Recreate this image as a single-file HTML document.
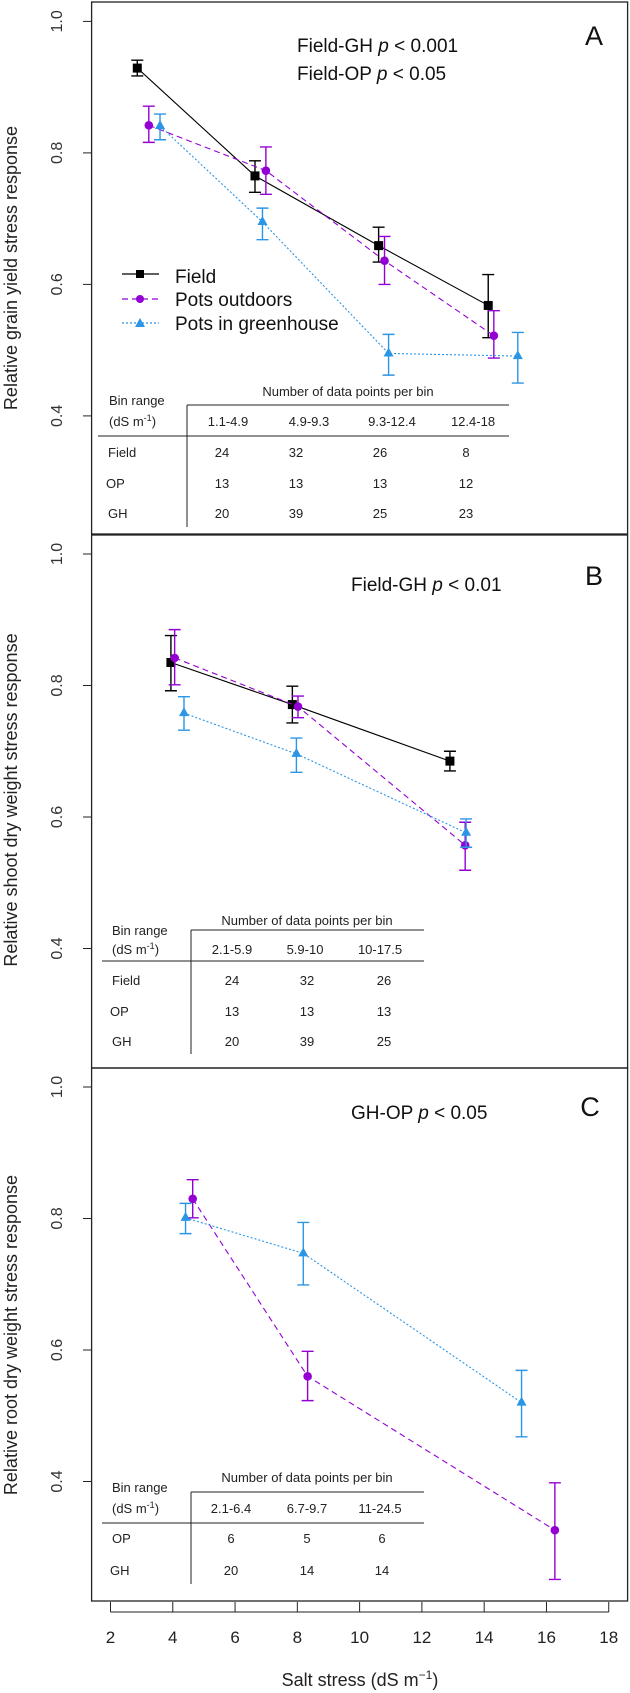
<!DOCTYPE html>
<html><head><meta charset="utf-8">
<style>
html,body{margin:0;padding:0;background:#fff;}
svg{display:block;font-family:"Liberation Sans",sans-serif;}
.tb{font-family:"Liberation Sans",sans-serif;font-size:13px;fill:#222;}
</style></head>
<body>
<svg id="chart" width="630" height="1693" viewBox="0 0 630 1693" xmlns="http://www.w3.org/2000/svg">
  <!-- Panel A -->
  <g id="panelA">
    <rect x="91.6" y="2" width="536" height="532" fill="none" stroke="#222" stroke-width="1.3"/>
    <text x="594" y="45" font-size="27" text-anchor="middle" fill="#111">A</text>
    <text x="297" y="52" font-size="19" fill="#111">Field-GH <tspan font-style="italic">p</tspan> &lt; 0.001</text>
    <text x="297" y="80" font-size="19" fill="#111">Field-OP <tspan font-style="italic">p</tspan> &lt; 0.05</text>
    <text transform="translate(17,268) rotate(-90)" font-size="18" text-anchor="middle" fill="#222">Relative grain yield stress response</text>
    <g>
      <g>
        <line x1="122" y1="274" x2="159" y2="274" stroke="#000" stroke-width="1.2"/>
        <rect x="136" y="270" width="8" height="8" fill="#000"/>
        <text x="175" y="283" font-size="19" fill="#111">Field</text>
      </g>
      <g>
        <line x1="122" y1="299" x2="159" y2="299" stroke="#9400D3" stroke-width="1.2" stroke-dasharray="6,4"/>
        <circle cx="140" cy="299" r="4" fill="#9400D3"/>
        <text x="175" y="306" font-size="19" fill="#111">Pots outdoors</text>
      </g>
      <g>
        <line x1="122" y1="323" x2="159" y2="323" stroke="#2b95e6" stroke-width="1.2" stroke-dasharray="2,2"/>
        <path d="M140,318 L145,327 L135,327 Z" fill="#2b95e6"/>
        <text x="175" y="330" font-size="19" fill="#111">Pots in greenhouse</text>
      </g>
    </g>
    <g class="tb">
      <text x="348" y="396" text-anchor="middle">Number of data points per bin</text>
      <line x1="187" y1="405" x2="509" y2="405" stroke="#222"/>
      <line x1="98" y1="436" x2="509" y2="436" stroke="#222"/>
      <line x1="187" y1="405" x2="187" y2="527" stroke="#222"/>
      <text x="109" y="405">Bin range</text>
      <text x="109" y="426">(dS m<tspan baseline-shift="super" font-size="9">-1</tspan>)</text>
      <text x="228" y="426" text-anchor="middle">1.1-4.9</text>
      <text x="309" y="426" text-anchor="middle">4.9-9.3</text>
      <text x="392" y="426" text-anchor="middle">9.3-12.4</text>
      <text x="473" y="426" text-anchor="middle">12.4-18</text>
      <text x="108" y="457">Field</text><text x="222" y="457" text-anchor="middle">24</text><text x="296" y="457" text-anchor="middle">32</text><text x="380" y="457" text-anchor="middle">26</text><text x="466" y="457" text-anchor="middle">8</text>
      <text x="106" y="488">OP</text><text x="222" y="488" text-anchor="middle">13</text><text x="296" y="488" text-anchor="middle">13</text><text x="380" y="488" text-anchor="middle">13</text><text x="466" y="488" text-anchor="middle">12</text>
      <text x="108" y="518">GH</text><text x="222" y="518" text-anchor="middle">20</text><text x="296" y="518" text-anchor="middle">39</text><text x="380" y="518" text-anchor="middle">25</text><text x="466" y="518" text-anchor="middle">23</text>
    </g>
  </g>
  <!-- Panel B -->
  <g id="panelB">
    <rect x="91.6" y="535" width="536" height="533" fill="none" stroke="#222" stroke-width="1.3"/>
    <text x="594" y="585" font-size="27" text-anchor="middle" fill="#111">B</text>
    <text x="351" y="591" font-size="19" fill="#111">Field-GH <tspan font-style="italic">p</tspan> &lt; 0.01</text>
    <text transform="translate(17,800) rotate(-90)" font-size="18" text-anchor="middle" fill="#222">Relative shoot dry weight stress response</text>
    <g class="tb">
      <text x="307" y="925" text-anchor="middle">Number of data points per bin</text>
      <line x1="191" y1="930" x2="424" y2="930" stroke="#222"/>
      <line x1="102" y1="961" x2="424" y2="961" stroke="#222"/>
      <line x1="191" y1="930" x2="191" y2="1054" stroke="#222"/>
      <text x="112" y="935">Bin range</text>
      <text x="112" y="954">(dS m<tspan baseline-shift="super" font-size="9">-1</tspan>)</text>
      <text x="232" y="954" text-anchor="middle">2.1-5.9</text>
      <text x="305" y="954" text-anchor="middle">5.9-10</text>
      <text x="380" y="954" text-anchor="middle">10-17.5</text>
      <text x="112" y="985">Field</text><text x="232" y="985" text-anchor="middle">24</text><text x="307" y="985" text-anchor="middle">32</text><text x="384" y="985" text-anchor="middle">26</text>
      <text x="110" y="1016">OP</text><text x="232" y="1016" text-anchor="middle">13</text><text x="307" y="1016" text-anchor="middle">13</text><text x="384" y="1016" text-anchor="middle">13</text>
      <text x="112" y="1046">GH</text><text x="232" y="1046" text-anchor="middle">20</text><text x="307" y="1046" text-anchor="middle">39</text><text x="384" y="1046" text-anchor="middle">25</text>
    </g>
  </g>
  <!-- Panel C -->
  <g id="panelC">
    <rect x="91.6" y="1068" width="536" height="533" fill="none" stroke="#222" stroke-width="1.3"/>
    <text x="590" y="1116" font-size="27" text-anchor="middle" fill="#111">C</text>
    <text x="351" y="1119" font-size="19" fill="#111">GH-OP <tspan font-style="italic">p</tspan> &lt; 0.05</text>
    <text transform="translate(17,1335) rotate(-90)" font-size="18" text-anchor="middle" fill="#222">Relative root dry weight stress response</text>
    <g class="tb">
      <text x="307" y="1482" text-anchor="middle">Number of data points per bin</text>
      <line x1="191" y1="1492" x2="424" y2="1492" stroke="#222"/>
      <line x1="102" y1="1523" x2="424" y2="1523" stroke="#222"/>
      <line x1="191" y1="1492" x2="191" y2="1584" stroke="#222"/>
      <text x="112" y="1492">Bin range</text>
      <text x="112" y="1513">(dS m<tspan baseline-shift="super" font-size="9">-1</tspan>)</text>
      <text x="231" y="1513" text-anchor="middle">2.1-6.4</text>
      <text x="307" y="1513" text-anchor="middle">6.7-9.7</text>
      <text x="380" y="1513" text-anchor="middle">11-24.5</text>
      <text x="112" y="1543">OP</text><text x="231" y="1543" text-anchor="middle">6</text><text x="307" y="1543" text-anchor="middle">5</text><text x="382" y="1543" text-anchor="middle">6</text>
      <text x="110" y="1575">GH</text><text x="231" y="1575" text-anchor="middle">20</text><text x="307" y="1575" text-anchor="middle">14</text><text x="382" y="1575" text-anchor="middle">14</text>
    </g>
  </g>
  <text x="360" y="1686" font-size="18" text-anchor="middle" fill="#222">Salt stress (dS m<tspan baseline-shift="super" font-size="12">−1</tspan>)</text>
  <g id="dyn"></g>
</svg>
<script>
// ---- data ----
const xTicks = [2,4,6,8,10,12,14,16,18];
const yTicks = [0.4,0.6,0.8,1.0];
// Panel A: grain yield
const aFieldX = [2.86,6.64,10.61,14.13];
const aFieldY = [0.929,0.765,0.659,0.568];
const aFieldLo = [0.917,0.740,0.634,0.519];
const aFieldHi = [0.941,0.788,0.687,0.615];
const aOpX = [3.23,6.99,10.80,14.31];
const aOpY = [0.842,0.773,0.636,0.522];
const aOpLo = [0.816,0.737,0.600,0.488];
const aOpHi = [0.871,0.809,0.673,0.560];
const aGhX = [3.59,6.88,10.93,15.08];
const aGhY = [0.841,0.695,0.495,0.491];
const aGhLo = [0.820,0.668,0.462,0.450];
const aGhHi = [0.859,0.716,0.524,0.527];
// Panel B: shoot dry weight
const bFieldX = [3.94,7.84,12.90];
const bFieldY = [0.835,0.771,0.685];
const bFieldLo = [0.792,0.743,0.670];
const bFieldHi = [0.876,0.799,0.700];
const bOpX = [4.06,8.02,13.39];
const bOpY = [0.842,0.768,0.557];
const bOpLo = [0.801,0.751,0.519];
const bOpHi = [0.885,0.784,0.592];
const bGhX = [4.36,7.97,13.42];
const bGhY = [0.758,0.696,0.576];
const bGhLo = [0.732,0.668,0.554];
const bGhHi = [0.783,0.720,0.597];
// Panel C: root dry weight
const cOpX = [4.64,8.33,16.27];
const cOpY = [0.830,0.560,0.326];
const cOpLo = [0.801,0.523,0.251];
const cOpHi = [0.859,0.598,0.398];
const cGhX = [4.41,8.19,15.20];
const cGhY = [0.801,0.747,0.520];
const cGhLo = [0.777,0.699,0.468];
const cGhHi = [0.823,0.794,0.569];

const NS = "http://www.w3.org/2000/svg";
const root = document.getElementById('dyn');
const X0 = 110.5, XS = 31.14;
const xPix = v => X0 + (v - 2) * XS;
const YS = 657.5;
const panelTop = {A:21.4, B:554, C:1087};
const yPix = (p, v) => panelTop[p] + (1 - v) * YS;
const COL = {field:'#000', op:'#9400D3', gh:'#2b95e6'};
const DASH = {field:'', op:'6,4', gh:'2,2'};

function mk(tag, attrs, parent) {
  const el = document.createElementNS(NS, tag);
  for (const k in attrs) el.setAttribute(k, attrs[k]);
  (parent || root).appendChild(el);
  return el;
}

// y axes
['A','B','C'].forEach(p => {
  const g = mk('g', {});
  
  
  yTicks.forEach(t => {
    const y = yPix(p, t);
    const ln = mk('line', {x1:83, x2:91.6, y1:y, y2:y, stroke:'#222'}, g);
    
    
    const tx = mk('text', {transform:`translate(62,${y}) rotate(-90)`, 'text-anchor':'middle', 'font-size':16, fill:'#333'}, g);
    
    
    tx.textContent = t.toFixed(1);
  });
});

// x axis
const xg = mk('g', {});


mk('line', {x1:xPix(xTicks[0]), x2:xPix(xTicks[xTicks.length-1]), y1:1612, y2:1612, stroke:'#222'}, xg);
xTicks.forEach(t => {
  const x = xPix(t);
  const ln = mk('line', {x1:x, x2:x, y1:1602, y2:1612, stroke:'#222'}, xg);
  
  
  const tx = mk('text', {x:x, y:1643, 'text-anchor':'middle', 'font-size':17, fill:'#222'}, xg);
  
  
  tx.textContent = t;
});

function series(p, kind, xs, ys, lo, hi) {
  const g = mk('g', {});
  
  
  const c = COL[kind];
  const pts = xs.map((x, i) => xPix(x) + ',' + yPix(p, ys[i])).join(' ');
  const pl = mk('polyline', {points:pts, fill:'none', stroke:c, 'stroke-width':1.1}, g);
  if (DASH[kind]) pl.setAttribute('stroke-dasharray', DASH[kind]);
  
  
  xs.forEach((xv, i) => {
    const x = xPix(xv), y = yPix(p, ys[i]), y1 = yPix(p, lo[i]), y2 = yPix(p, hi[i]);
    const eb = mk('path', {d:`M${x},${y1}L${x},${y2}M${x-6},${y1}L${x+6},${y1}M${x-6},${y2}L${x+6},${y2}`, stroke:c, 'stroke-width':1.4, fill:'none'}, g);
    
    
    let m;
    if (kind === 'field') m = mk('rect', {x:x-4.5, y:y-4.5, width:9, height:9, fill:c}, g);
    else if (kind === 'op') m = mk('circle', {cx:x, cy:y, r:4.3, fill:c}, g);
    else m = mk('path', {d:`M${x},${y-6}L${x+5},${y+3}L${x-5},${y+3}Z`, fill:c}, g);
    
    
  });
}
series('A','field',aFieldX,aFieldY,aFieldLo,aFieldHi);
series('A','op',aOpX,aOpY,aOpLo,aOpHi);
series('A','gh',aGhX,aGhY,aGhLo,aGhHi);
series('B','field',bFieldX,bFieldY,bFieldLo,bFieldHi);
series('B','op',bOpX,bOpY,bOpLo,bOpHi);
series('B','gh',bGhX,bGhY,bGhLo,bGhHi);
series('C','op',cOpX,cOpY,cOpLo,cOpHi);
series('C','gh',cGhX,cGhY,cGhLo,cGhHi);
</script>
</body></html>
